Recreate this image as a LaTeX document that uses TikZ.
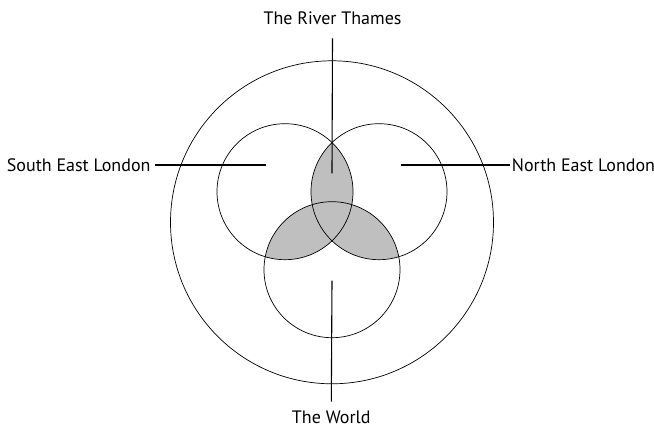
\documentclass[tikz,border=0pt]{standalone}
\usepackage{fontspec}
\setmainfont{PT Sans}
\usetikzlibrary{positioning}

\begin{document}
\begin{tikzpicture}[
    x=1pt, y=1pt,
    font=\fontsize{18}{21}\selectfont,
    ring/.style={draw, circle, line width=0.7pt, inner sep=0pt, minimum size=#1},
    overlap/.style={fill=black!25},
    lead/.style={line width=1.1pt},
    tag/.style={inner sep=4pt}
]
\useasboundingbox (0,0) rectangle (654,430);

\coordinate (o) at (332,207.7);
\coordinate (lc) at (285,238.3);
\coordinate (rc) at (379,238.3);
\coordinate (bc) at (332,160.3);

% shaded overlaps
\begin{scope}
  \clip (lc) circle[radius=68];
  \fill[overlap] (rc) circle[radius=68];
  \fill[overlap] (bc) circle[radius=68];
\end{scope}
\begin{scope}
  \clip (rc) circle[radius=68];
  \fill[overlap] (bc) circle[radius=68];
\end{scope}

\node[ring=323pt] (outer) at (o) {};
\node[ring=136pt] (sel) at (lc) {};
\node[ring=136pt] (nel) at (rc) {};
\node[ring=136pt] (wld) at (bc) {};

\node[tag, anchor=base] (thames) at (332.5,405) {The River Thames};
\node[tag, anchor=east] (setext) at (154.7,265) {South East London};
\node[tag, anchor=west] (netext) at (507.7,265) {North East London};
\node[tag, anchor=base] (world) at (331.3,6) {The World};

\coordinate (topend) at (332,256.7);
\coordinate (botend) at (332,149.3);
\coordinate (seend) at (266,265);
\coordinate (neend) at (401,265);

\draw[lead] ([yshift=-13.3pt]thames.base) -- (topend);
\draw[lead] (setext) -- (seend);
\draw[lead, shorten <=-2.7pt] (netext) -- (neend);
\draw[lead] (botend) -- ([yshift=22.3pt]world.base);
\end{tikzpicture}
\end{document}
